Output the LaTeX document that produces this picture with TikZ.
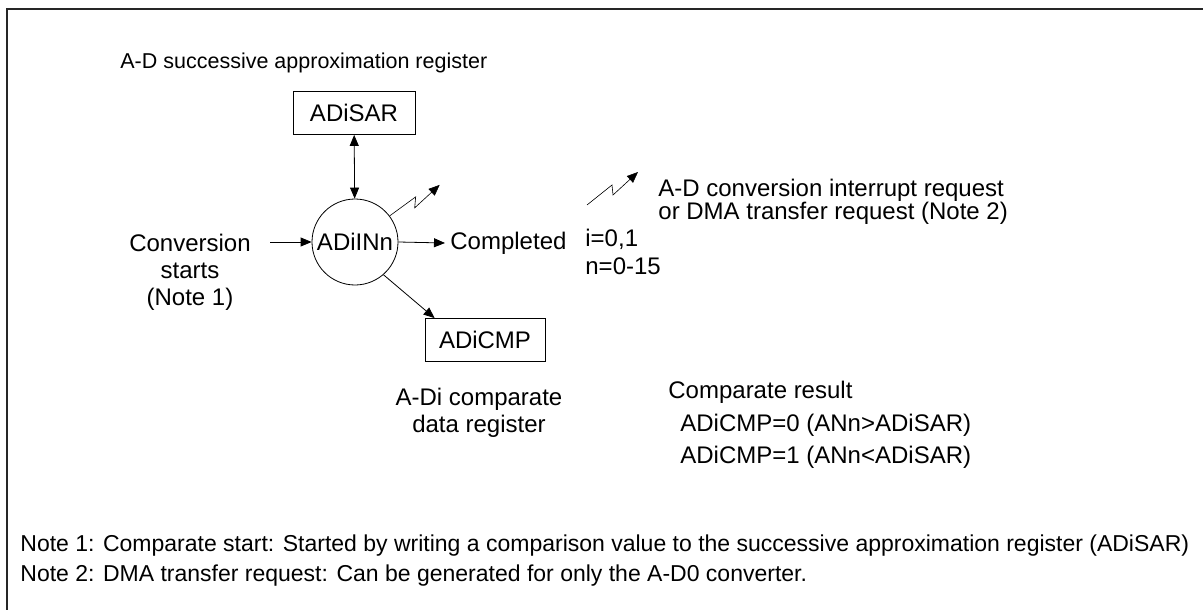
\documentclass[tikz,border=0pt]{standalone}
\usepackage{fontspec}
\setmainfont{Liberation Sans}
\usetikzlibrary{arrows.meta,positioning,calc}

\begin{document}
\begin{tikzpicture}[x=1pt,y=-1pt,font=\fontsize{24}{27}\selectfont,line width=0.8pt,
  >={Triangle[length=11pt,width=9pt]},
  reg/.style={draw,minimum height=43pt,inner sep=2pt},
  lbl/.style={inner sep=0pt,anchor=base west},
  note/.style={inner sep=0pt,anchor=base west,font=\fontsize{23}{25}\selectfont}]
    \useasboundingbox (0,0) rectangle (1203,610);
    % frame (top and left edge only)
    \draw[line width=1.5pt,black!85] (7,610) -- (7,9) -- (1203,9);
    % Registers and converter
    \node[lbl,font=\fontsize{21.5}{24}\selectfont] at (120,69) (title) {A-D successive approximation register};
    \node[reg,minimum width=122pt] at (354,113) (sar) {ADiSAR};
    \node[draw,circle,minimum size=86pt,inner sep=0pt] at (355,242) (adc) {ADiINn};
    \node[reg,minimum width=120pt] at (485,340) (cmp) {ADiCMP};
    \node[align=center,inner sep=0pt] at (190,272) (start) {Conversion\\starts\\(Note 1)};
    \node[inner sep=0pt,anchor=west] at (450,243) (done) {Completed};
    \node[align=center,inner sep=0pt] at (479,413) (cmpname) {A-Di comparate\\data register};
    % Arrows
    \coordinate (inbeg) at (270,242);
    \draw[->] (inbeg) -- (adc.west);
    \draw[<->] (sar) -- (adc);
    \draw[->] (adc.east) -- ([xshift=-5pt]done.west);
    \draw[->] (adc.-49) -- ([xshift=10pt]cmp.north west);
    \draw[->,line width=0.6pt] (adc.37) -- ++(26,-19) -- ++(-1,11) -- ++(25,-23);
    % Legend
    \coordinate (irq) at (587,205);
    \draw[->,line width=0.6pt] (irq) -- ++(25,-20) -- ++(1,10) -- ++(25,-23);
    \node[align=left,inner sep=0pt,anchor=west,font=\fontsize{24}{22}\selectfont] at (658,202) (irqtext) {A-D conversion interrupt request\\or DMA transfer request (Note 2)};
    \node[align=left,inner sep=0pt,anchor=west,font=\fontsize{24}{28}\selectfont] at (585,252) (range) {i=0,1\\n=0-15};
    \node[lbl] at (668,398) (result) {Comparate result};
    \node[lbl] at (680,431) (res0) {ADiCMP=0 (ANn>ADiSAR)};
    \node[lbl] at (680,463) (res1) {ADiCMP=1 (ANn<ADiSAR)};
    % Notes
    \node[note] at (20,551) (note1) {Note 1: Comparate start: Started by writing a comparison value to the successive approximation register (ADiSAR)};
    \node[note] at (20,581) (note2) {Note 2: DMA transfer request: Can be generated for only the A-D0 converter.};
\end{tikzpicture}
\end{document}
